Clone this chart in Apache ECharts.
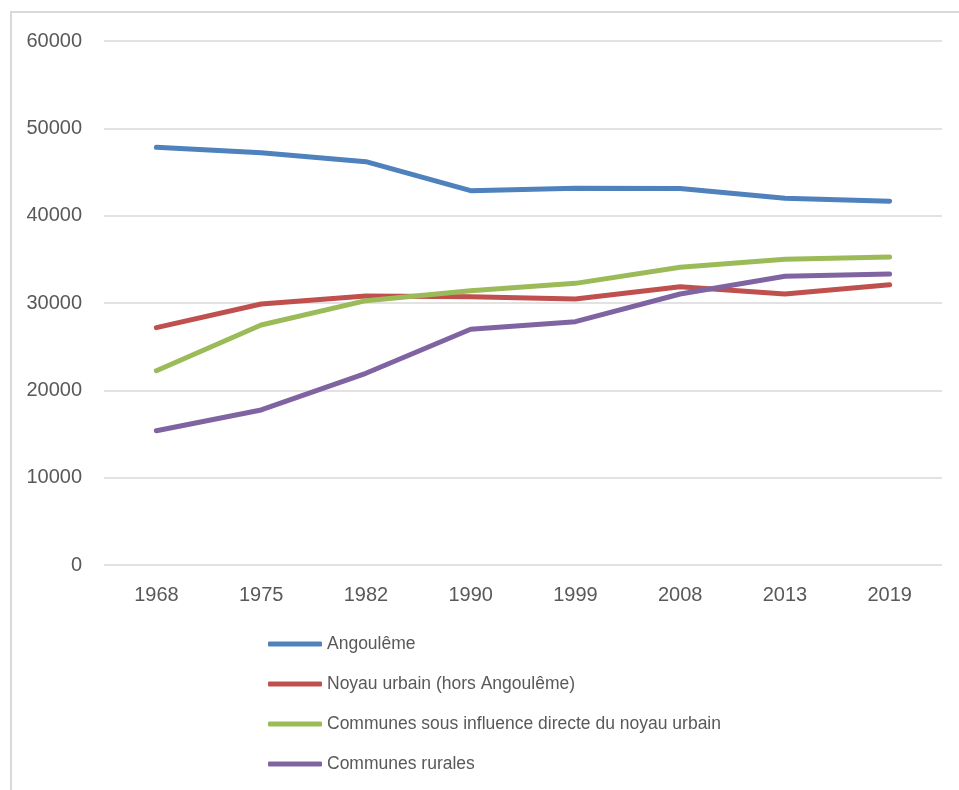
<!DOCTYPE html>
<html>
<head>
<meta charset="utf-8">
<script src="https://cdn.jsdelivr.net/npm/echarts@6/dist/echarts.min.js"></script>
<style>
  html, body { margin: 0; padding: 0; background: #ffffff; }
  #chart { width: 959px; height: 790px; }
</style>
</head>
<body>
<div id="chart"></div>
<script>
// Population by area type, census years
const years = ['1968', '1975', '1982', '1990', '1999', '2008', '2013', '2019'];
const angouleme = [47830, 47210, 46180, 42860, 43130, 43100, 41990, 41650];
const noyauUrbain = [27180, 29890, 30800, 30720, 30460, 31870, 31030, 32100];
const communesInfluence = [22250, 27480, 30270, 31410, 32250, 34090, 35010, 35270];
const communesRurales = [15380, 17750, 21950, 26990, 27860, 31030, 33060, 33320];
const yTicks = [0, 10000, 20000, 30000, 40000, 50000, 60000];

const seriesNames = [
  'Angoulême',
  'Noyau urbain (hors Angoulême)',
  'Communes sous influence directe du noyau urbain',
  'Communes rurales'
];
const seriesData = [angouleme, noyauUrbain, communesInfluence, communesRurales];
const colors = ['#4F81BD', '#C0504D', '#9BBB59', '#8064A2'];

const FONT = "'Liberation Sans', Arial, sans-serif";
const TEXT = '#595959';

const chart = echarts.init(document.getElementById('chart'), null, { renderer: 'canvas' });

chart.setOption({
  backgroundColor: '#ffffff',
  animation: false,
  color: colors,
  graphic: [{
    type: 'rect',
    silent: true,
    shape: { x: 11, y: 12, width: 1000, height: 1000 },
    style: { fill: 'none', stroke: '#d9d9d9', lineWidth: 2 }
  }],
  grid: { left: 104, right: 17, top: 41, bottom: 225 },
  xAxis: {
    type: 'category',
    data: years,
    boundaryGap: true,
    axisLine: { show: false },
    axisTick: { show: false },
    axisLabel: { color: TEXT, fontFamily: FONT, fontSize: 20, margin: 20 }
  },
  yAxis: {
    type: 'value',
    min: yTicks[0],
    max: yTicks[yTicks.length - 1],
    interval: 10000,
    axisLine: { show: false },
    axisTick: { show: false },
    splitLine: { lineStyle: { color: '#d9d9d9', width: 1.5 } },
    axisLabel: {
      color: TEXT, fontFamily: FONT, fontSize: 20, margin: 22,
      formatter: (v) => String(v)
    }
  },
  legend: {
    orient: 'vertical',
    left: 263,
    top: 629,
    icon: 'roundRect',
    itemWidth: 54,
    itemHeight: 5,
    itemGap: 20,
    textStyle: { color: TEXT, fontFamily: FONT, fontSize: 17.5, lineHeight: 20 },
    data: seriesNames
  },
  series: seriesNames.map((name, i) => ({
    name: name,
    type: 'line',
    data: seriesData[i],
    showSymbol: false,
    symbol: 'none',
    lineStyle: { width: 5, color: colors[i], cap: 'round', join: 'round' },
    itemStyle: { color: colors[i] }
  }))
});
</script>
</body>
</html>
